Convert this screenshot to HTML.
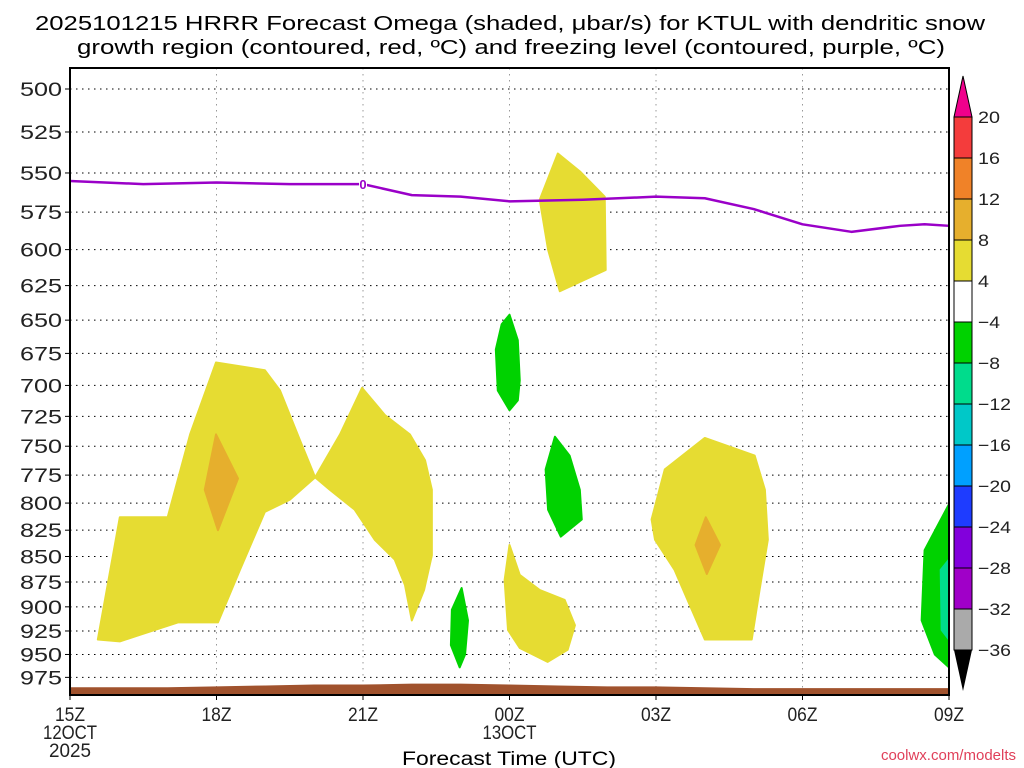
<!DOCTYPE html>
<html><head><meta charset="utf-8"><style>
html,body{margin:0;padding:0;background:#fff;}
svg{display:block;font-family:"Liberation Sans","DejaVu Sans",sans-serif;}
</style></head><body>
<svg id="chart" width="1024" height="768" viewBox="0 0 1024 768" xmlns="http://www.w3.org/2000/svg">
<text x="35" y="30" font-size="20" textLength="950" lengthAdjust="spacingAndGlyphs" fill="#000">2025101215 HRRR Forecast Omega (shaded, μbar/s) for KTUL with dendritic snow</text>
<text x="77" y="54" font-size="20" textLength="868" lengthAdjust="spacingAndGlyphs" fill="#000">growth region (contoured, red, ºC) and freezing level (contoured, purple, ºC)</text>
<text x="509" y="765" font-size="19" text-anchor="middle" textLength="214" lengthAdjust="spacingAndGlyphs">Forecast Time (UTC)</text>
<text x="1016" y="760" font-size="15" text-anchor="end" fill="#e0405a">coolwx.com/modelts</text>
<g id="plot"></g>
<g id="cbar"></g>
</svg>
<script>
const pLevels=[500,525,550,575,600,625,650,675,700,725,750,775,800,825,850,875,900,925,950,975];
const xTickHours=[0,3,6,9,12,15,18];
const xTickLabels=['15Z','18Z','21Z','00Z','03Z','06Z','09Z'];
const freezeHours=[0,1.5,3,4.5,6,7,8,9,10.5,12,13,14,15,16,17,17.5,18];
const freezeP=[555,557,556,557,557,564,565,568,567,565,566,573,583,588,584,583,584];
const sfcHours=[0,1,2,3,4,5,6,7,8,9,10,11,12,13,14,15,16,17,18];
const sfcP=[986,986,986,985,984,983,983,982,982,983,984,985,985,986,987,987,987,987,987];
const yellowA=[[0.57,934],[1.02,813],[2.0,813],[2.46,740],[2.99,682],[3.99,688],[4.3,704],[4.71,745],[5.02,777],[4.5,797],[3.99,808],[3.48,863],[3.03,916],[2.21,916],[1.02,936]];
const orangeA=[[2.99,740],[3.44,778],[3.03,825],[2.76,788]];
const yellowB=[[5.02,777],[5.53,740],[5.98,702],[6.45,724],[6.96,740],[7.27,762],[7.41,788],[7.41,849],[7.25,883],[7.0,914],[6.86,878],[6.65,853],[6.24,834],[5.83,806],[5.32,788]];
const yellowC=[[9.62,567],[9.99,538],[10.44,549],[10.95,565],[10.97,614],[10.03,629],[9.79,600]];
const yellowD=[[9.0,839],[9.21,868],[9.62,883],[10.13,893],[10.34,919],[10.19,945],[9.78,958],[9.21,943],[8.97,924],[8.9,873]];
const yellowE=[[11.91,815],[12.18,770],[13.0,743],[14.02,758],[14.23,788],[14.29,834],[14.12,883],[13.96,934],[13.0,934],[12.69,898],[12.38,863],[11.98,834]];
const orangeE=[[13.02,813],[13.31,839],[13.04,867],[12.81,839]];
const greenG1=[[9.0,646],[9.17,665],[9.21,696],[9.17,712],[9.0,720],[8.76,704],[8.72,672],[8.84,653]];
const greenG2=[[9.93,742],[10.23,758],[10.44,788],[10.48,815],[10.05,831],[9.79,806],[9.74,770]];
const greenG3=[[8.02,881],[8.15,914],[8.09,950],[7.98,964],[7.80,940],[7.82,903]];
const greenG4=[[18.0,801],[18.0,964],[17.71,950],[17.44,914],[17.5,844]];
const tealG4=[[17.83,863],[18.0,853],[18.0,934],[17.85,924]];
const cbarLabels=['20','16','12','8','4','−4','−8','−12','−16','−20','−24','−28','−32','−36'];
const cbarColors=['#f43c3c','#f08228','#e6af2d','#e6dc32','#ffffff','#00d200','#00dc8c','#00c8c8','#00a0ff','#1e3cff','#8200dc','#a000c8','#aaaaaa'];

const X0=70,X1=949,Y0=68,Y1=695;
const x=h=>X0+h*(X1-X0)/18;
const y=p=>89+881*Math.log(p/500);
const NS='http://www.w3.org/2000/svg';
const plot=document.getElementById('plot'),cb=document.getElementById('cbar');
function mk(tag,attrs,parent){const e=document.createElementNS(NS,tag);for(const k in attrs)e.setAttribute(k,attrs[k]);parent.appendChild(e);return e;}
function poly(arr,fill,name){const e=mk('polygon',{points:arr.map(a=>x(a[0])+','+y(a[1])).join(' '),fill:fill,stroke:fill,'stroke-width':2,'stroke-linejoin':'round'},plot);

}
pLevels.forEach(p=>{const l=mk('line',{x1:X0,x2:X1,y1:y(p),y2:y(p),stroke:'#000','stroke-width':1,'stroke-dasharray':'1.5,4.5'},plot);


const t=mk('line',{x1:X0-5,x2:X0,y1:y(p),y2:y(p),stroke:'#000'},plot);


const tx=mk('text',{x:X0-8,y:y(p)+7,'font-size':19,'text-anchor':'end',fill:'#222',textLength:42,lengthAdjust:'spacingAndGlyphs'},plot);tx.textContent=p;

});
xTickHours.forEach((h,i)=>{if(i>0&&i<xTickHours.length-1){const l=mk('line',{x1:x(h),x2:x(h),y1:Y0,y2:Y1,stroke:'#999','stroke-dasharray':'1.5,4.5'},plot);

}
const t=mk('line',{x1:x(h),x2:x(h),y1:Y1,y2:Y1+5,stroke:'#000'},plot);


const tx=mk('text',{x:x(h)-15,y:721,'font-size':19,fill:'#222',textLength:30,lengthAdjust:'spacingAndGlyphs'},plot);tx.textContent=xTickLabels[i];

});
[['12OCT',x(0),739,54],['2025',x(0),757,42],['13OCT',x(9),739,54]].forEach(d=>{const t=mk('text',{x:d[1]-d[3]/2,y:d[2],'font-size':19,fill:'#222',textLength:d[3],lengthAdjust:'spacingAndGlyphs'},plot);t.textContent=d[0];

});
poly(yellowA,'#e6dc32','omega-yellow-a');poly(orangeA,'#e6af2d','omega-orange-a');
poly(yellowB,'#e6dc32','omega-yellow-b');poly(yellowC,'#e6dc32','omega-yellow-c');
poly(yellowD,'#e6dc32','omega-yellow-d');poly(yellowE,'#e6dc32','omega-yellow-e');
poly(orangeE,'#e6af2d','omega-orange-e');
poly(greenG1,'#00d200','omega-green-1');poly(greenG2,'#00d200','omega-green-2');
poly(greenG3,'#00d200','omega-green-3');poly(greenG4,'#00d200','omega-green-4');
poly(tealG4,'#00dc8c','omega-teal-4');
const terr=sfcHours.map((h,i)=>x(h)+','+y(sfcP[i])).join(' ')+' '+x(18)+','+Y1+' '+x(0)+','+Y1;
const tp=mk('polygon',{points:terr,fill:'#a0522d'},plot);


const fl=mk('polyline',{points:freezeHours.map((h,i)=>x(h)+','+y(freezeP[i])).join(' '),fill:'none',stroke:'#9a00c8','stroke-width':2.5,'stroke-linejoin':'round'},plot);


const fr=mk('rect',{x:x(6)-4,y:y(557)-8,width:8,height:15,fill:'#fff'},plot);


const ft=mk('text',{x:x(6),y:y(557)+5,'font-size':13,'text-anchor':'middle',fill:'#9a00c8','font-weight':'bold'},plot);ft.textContent='0';


const fr2=mk('rect',{x:X0,y:Y0,width:X1-X0,height:Y1-Y0,fill:'none',stroke:'#000','stroke-width':2},plot);


const CX=954,CW=18,CT=117,CS=41;
cbarColors.forEach((c,i)=>{const r=mk('rect',{x:CX,y:CT+i*CS,width:CW,height:CS,fill:c,stroke:'#000','stroke-width':1},cb);

});
const tu=mk('polygon',{points:`${CX},${CT} ${CX+CW},${CT} ${CX+CW/2},76`,fill:'#f0008c',stroke:'#000'},cb);


const bot=CT+cbarColors.length*CS;
const td=mk('polygon',{points:`${CX},${bot} ${CX+CW},${bot} ${CX+CW/2},691`,fill:'#000'},cb);


cbarLabels.forEach((l,i)=>{const w=l.length*11;const t=mk('text',{x:978,y:CT+i*CS+6,'font-size':17,fill:'#222',textLength:w,lengthAdjust:'spacingAndGlyphs'},cb);t.textContent=l;

});
</script>
</body></html>
